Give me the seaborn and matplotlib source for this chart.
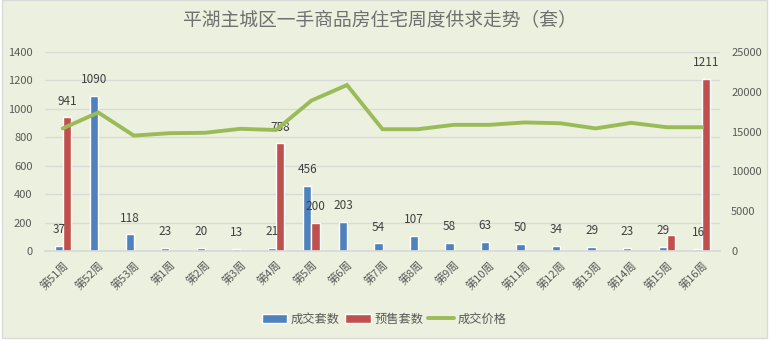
import matplotlib
matplotlib.use("Agg")
import matplotlib.pyplot as plt
import seaborn as sns
import pandas as pd
from matplotlib.patches import Rectangle, Patch
from matplotlib.lines import Line2D

sns.set_theme(style="white")
plt.rcParams["font.family"] = ["Noto Sans CJK SC", "DejaVu Sans"]
plt.rcParams["axes.unicode_minus"] = False

weeks = ["第51周", "第52周", "第53周", "第1周", "第2周", "第3周", "第4周", "第5周",
         "第6周", "第7周", "第8周", "第9周", "第10周", "第11周", "第12周", "第13周",
         "第14周", "第15周", "第16周"]
deals = [37, 1090, 118, 23, 20, 13, 21, 456, 203, 54, 107, 58, 63, 50, 34, 29, 23, 29, 16]
presale = [941, 0, 0, 0, 0, 0, 758, 200, 0, 0, 0, 0, 0, 0, 0, 0, 0, 115, 1211]
presale_labels = ["941", "", "", "", "", "", "758", "200", "", "", "", "", "", "", "", "",
                  "", "", "1211"]
price = [15400, 17400, 14500, 14800, 14850, 15350, 15200, 18900, 20850, 15300, 15300,
         15850, 15850, 16150, 16050, 15400, 16100, 15550, 15550]

BLUE = "#4F81BD"
RED = "#C0504D"
GREEN = "#9BBB59"
BG = "#EBF1DE"
GRID = "#D9D9D9"
TXT = "#595959"

df = pd.DataFrame({
    "周": weeks * 2,
    "套数": deals + presale,
    "类型": ["成交套数"] * len(weeks) + ["预售套数"] * len(weeks),
})

fig = plt.figure(figsize=(7.7, 3.41), dpi=100)
fig.patch.set_facecolor("white")
# chart area panel
fig.add_artist(Rectangle((2 / 770, 3 / 341), 765 / 770, 338 / 341, transform=fig.transFigure,
                         facecolor=BG, edgecolor=GRID, linewidth=1, zorder=-10))

ax = fig.add_axes([45 / 770, 90 / 341, 675 / 770, 199 / 341])
ax.set_facecolor("none")
sns.barplot(data=df, x="周", y="套数", hue="类型", palette=[BLUE, RED],
            width=0.46, dodge=True, ax=ax, legend=False, saturation=1)
ax.set_ylim(0, 1400)
ax.set_xlim(-0.5, len(weeks) - 0.5)
ax.set_yticks(range(0, 1401, 200))
ax.yaxis.grid(True, color=GRID, linewidth=1)
ax.set_axisbelow(True)
for s in ["top", "left", "right"]:
    ax.spines[s].set_visible(False)
ax.spines["bottom"].set_color(GRID)
ax.set_xlabel("")
ax.set_ylabel("")
ax.tick_params(axis="both", length=0, labelsize=8, labelcolor=TXT)
ax.tick_params(axis="y", pad=9)
ax.set_xticks(range(len(weeks)))
ax.set_xticklabels(weeks, rotation=45, ha="right", va="top", rotation_mode="anchor")
ax.tick_params(axis="x", pad=6)

ax.bar_label(ax.containers[0], labels=[str(v) for v in deals], padding=7,
             fontsize=8.5, color="#404040")
ax.bar_label(ax.containers[1], labels=presale_labels, padding=7,
             fontsize=8.5, color="#404040")

ax2 = ax.twinx()
sns.lineplot(x=list(range(len(weeks))), y=price, color=GREEN, linewidth=2.8, ax=ax2,
             solid_joinstyle="miter")
ax2.set_ylim(0, 25000)
ax2.set_yticks(range(0, 25001, 5000))
for s in ax2.spines.values():
    s.set_visible(False)
ax2.tick_params(axis="y", length=0, labelsize=8, labelcolor=TXT, pad=8)
ax2.set_ylabel("")
ax2.grid(False)

fig.text(380 / 770, 1 - 20 / 341, "平湖主城区一手商品房住宅周度供求走势（套）",
         ha="center", va="center", fontsize=13.5, color="#707070")

handles = [Patch(facecolor=BLUE), Patch(facecolor=RED),
           Line2D([], [], color=GREEN, linewidth=2.8)]
fig.legend(handles, ["成交套数", "预售套数", "成交价格"], loc="center",
           bbox_to_anchor=(384 / 770, 1 - 319 / 341), ncol=3, frameon=False,
           fontsize=8.8, labelcolor=TXT, handlelength=2.1, handleheight=0.7,
           handletextpad=0.3, columnspacing=0.4)

fig.savefig("out.png", dpi=100, facecolor="white")
